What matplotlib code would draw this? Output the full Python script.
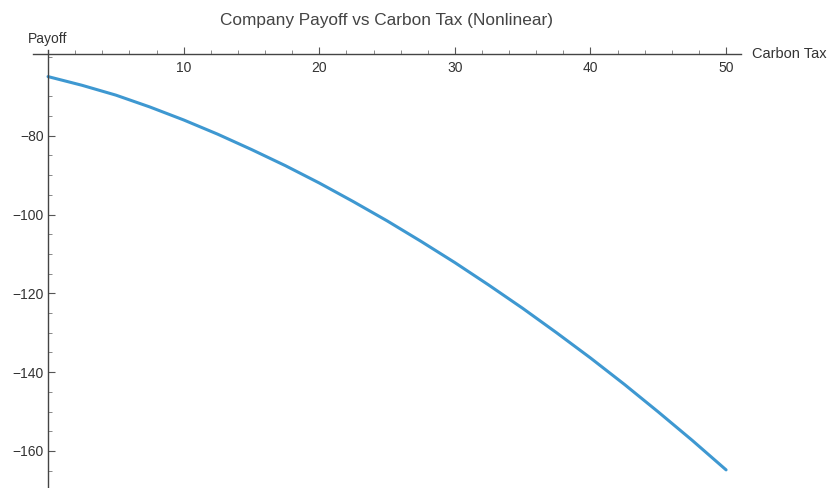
import matplotlib
matplotlib.use("Agg")
import matplotlib.pyplot as plt
from matplotlib.ticker import FixedLocator

plt.rcParams['font.family'] = ['Liberation Sans', 'DejaVu Sans']

# carbon tax levels and company payoff
carbon_tax = [0, 2.5, 5, 7.5, 10, 12.5, 15, 17.5, 20, 22.5, 25,
              27.5, 30, 32.5, 35, 37.5, 40, 42.5, 45, 47.5, 50]
payoff = [-65.0, -67.2, -69.7, -72.7, -76.0, -79.6, -83.5, -87.6, -92.0, -96.7, -101.6,
          -106.8, -112.2, -117.9, -123.8, -130.0, -136.4, -143.1, -150.1, -157.3, -164.8]

x_major = [10, 20, 30, 40, 50]
x_minor = [2, 4, 6, 8, 12, 14, 16, 18, 22, 24, 26, 28, 32, 34, 36, 38, 42, 44, 46, 48]
y_major = [-160, -140, -120, -100, -80]
y_minor = [-165, -155, -150, -145, -135, -130, -125, -115, -110, -105,
           -95, -90, -85, -75, -70, -65, -60]

W, H = 827, 488
fig = plt.figure(figsize=(W / 100, H / 100), dpi=100)

# axes box in pixels: left 33, right 741, top 50, bottom 488
ax = fig.add_axes([33 / W, 0, (741 - 33) / W, (488 - 50) / H])
ax.set_xlim(-1.11, 51.1)
ax.set_ylim(-169.4, -58.25)

ax.plot(carbon_tax, payoff, color="#3e98d1", linewidth=2.2, solid_capstyle="round")

axis_col = "#444444"
ax.spines["top"].set_visible(False)
ax.spines["right"].set_visible(False)
ax.spines["bottom"].set_position(("data", -59.3))
ax.spines["left"].set_position(("data", 0))
for s in ("bottom", "left"):
    ax.spines[s].set_color(axis_col)
    ax.spines[s].set_linewidth(1.0)

ax.xaxis.set_major_locator(FixedLocator(x_major))
ax.xaxis.set_minor_locator(FixedLocator(x_minor))
ax.yaxis.set_major_locator(FixedLocator(y_major))
ax.yaxis.set_minor_locator(FixedLocator(y_minor))

ax.tick_params(axis="both", which="major", direction="in", length=5, width=0.8,
               color="#555555", labelsize=10, labelcolor="#333333")
ax.tick_params(axis="both", which="minor", direction="in", length=3, width=0.7,
               color="#888888")
ax.tick_params(axis="x", which="major", pad=5)
ax.tick_params(axis="y", which="major", pad=3)

fig.text(387 / W, 1 - 20 / H, "Company Payoff vs Carbon Tax (Nonlinear)",
         ha="center", va="center", fontsize=12.4, color="#444444")
fig.text(28 / W, 1 - 39 / H, "Payoff", ha="left", va="center",
         fontsize=10, color="#333333")
fig.text(752 / W, 1 - 54 / H, "Carbon Tax", ha="left", va="center",
         fontsize=10.5, color="#333333")

fig.savefig("out.png", dpi=100, facecolor="white")
